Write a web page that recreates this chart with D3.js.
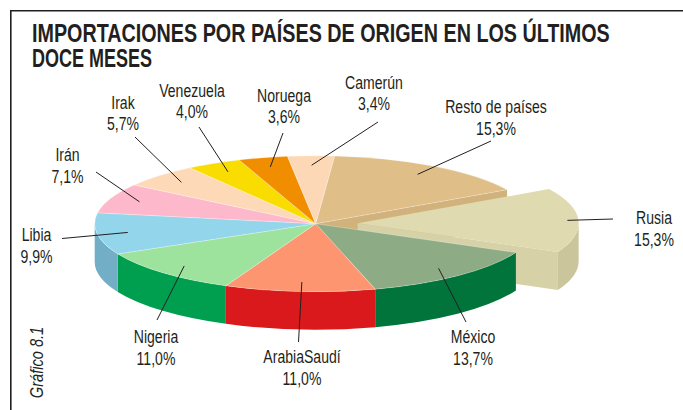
<!DOCTYPE html>
<html>
<head>
<meta charset="utf-8">
<script src="https://cdn.jsdelivr.net/npm/d3@7"></script>
<style>
  html, body { margin: 0; padding: 0; background: #fff; }
  svg { display: block; }
  text { font-family: "Liberation Sans", Arial, sans-serif; fill: #231f20; }
</style>
</head>
<body>
<svg id="chart"></svg>
<script>
const width = 683;
const height = 410;

// data
const categories = ["Resto de países", "Rusia", "México", "ArabiaSaudí", "Nigeria", "Libia", "Irán", "Irak", "Venezuela", "Noruega", "Camerún"];
const shares = [15.3, 15.3, 13.7, 11.0, 11.0, 9.9, 7.1, 5.7, 4.0, 3.6, 3.4];
const topColors = ["#dfbe87", "#dfdaaf", "#8dac85", "#fd9570", "#9de39d", "#93d5eb", "#feb8cb", "#fdd9b8", "#f9dc00", "#f18e00", "#fdd8b6"];
const sideColors = ["#d2b27c", "#cbc59c", "#00743a", "#d9191c", "#009f4f", "#72aec5", "#e9a3b5", "#e8c4a3", "#d9bf00", "#cf7a00", "#e8c3a1"];
const faceColors = ["#d2b27c", "#d6d1a6", "#00743a", "#d9191c", "#009f4f", "#72aec5", "#e9a3b5", "#e8c4a3", "#d9bf00", "#cf7a00", "#e8c3a1"];
const explodedCat = ["Rusia"];
const title = ["IMPORTACIONES POR PAÍSES DE ORIGEN EN LOS ÚLTIMOS", "DOCE MESES"];
const sourceNote = "Gráfico 8.1";

// label placement (annotation layout)
const labelLayout = {
  "Resto de países": { x: 496, y: 113, lx: 491, ly: 141 },
  "Rusia": { x: 654, y: 224, lx: 613, ly: 219 },
  "México": { x: 473, y: 343, lx: 466, ly: 322 },
  "ArabiaSaudí": { x: 302, y: 363, lx: 298.5, ly: 342 },
  "Nigeria": { x: 156, y: 343, lx: 157, ly: 320 },
  "Libia": { x: 36.5, y: 241, lx: 62, ly: 238.5 },
  "Irán": { x: 67.5, y: 161, lx: 96, ly: 172 },
  "Irak": { x: 123, y: 108.5, lx: 135, ly: 137 },
  "Venezuela": { x: 192, y: 96.5, lx: 199, ly: 127 },
  "Noruega": { x: 284, y: 101.5, lx: 283, ly: 133 },
  "Camerún": { x: 374, y: 88.5, lx: 378, ly: 122 }
};

const cx = 315.7, cy = 223.7, rx = 221, ry = 68, depth = 38;
const explode = 0.19;
const condense = 0.76;

const svg = d3.select("#chart").attr("width", width).attr("height", height);

svg.append("rect").attr("width", width).attr("height", height).attr("fill", "#fff");

// frame
svg.append("path")
  .attr("d", `M${width + 2},10.8 H10.8 V${height + 2}`)
  .attr("fill", "none")
  .attr("stroke", "#231f20")
  .attr("stroke-width", 1.6);

// title: one text block, squeezed to the condensed width of the original
const titleG = svg.append("g");
const titleText = titleG.append("text").attr("font-size", 25).attr("font-weight", "bold");
const line1 = titleText.append("tspan").attr("x", 0).text(title[0]);
const s1 = 578 / line1.node().getComputedTextLength();
titleText.append("tspan").attr("x", 0).attr("dy", 25.5)
  .attr("textLength", 120 / s1).attr("lengthAdjust", "spacingAndGlyphs")
  .text(title[1]);
titleG.attr("transform", `translate(32,42) scale(${s1},1)`);

// unit ellipse -> screen
const x = d3.scaleLinear().domain([-1, 1]).range([cx - rx, cx + rx]);
const y = d3.scaleLinear().domain([-1, 1]).range([cy - ry, cy + ry]);

const locale = d3.formatLocale({ decimal: ",", thousands: ".", grouping: [3], currency: ["", "€"] });
const pct = locale.format(".1f");

const data = categories.map((c, i) => ({ cat: c, value: shares[i], top: topColors[i], side: sideColors[i], face: faceColors[i] }));

const startA = 4.9 * Math.PI / 180;
const arcs = d3.pie().sort(null).value(d => d.value)
  .startAngle(startA).endAngle(startA + 2 * Math.PI)(data);

arcs.forEach(a => {
  const mid = (a.startAngle + a.endAngle) / 2;
  const e = explodedCat.includes(a.data.cat) ? explode : 0;
  a.ox = e * Math.sin(mid);
  a.oy = -e * Math.cos(mid);
  a.mid = mid;
});

function pt(a, ang, r, dz) {
  return [x(r * Math.sin(ang) + a.ox), y(-r * Math.cos(ang) + a.oy) + (dz || 0)];
}

function topPath(a) {
  const c = pt(a, 0, 0), p0 = pt(a, a.startAngle, 1), p1 = pt(a, a.endAngle, 1);
  const large = a.endAngle - a.startAngle > Math.PI ? 1 : 0;
  return `M${c}L${p0}A${rx},${ry} 0 ${large} 1 ${p1}Z`;
}

function wallPath(a) {
  const lo = Math.max(a.startAngle, Math.PI / 2);
  const hi = Math.min(a.endAngle, 3 * Math.PI / 2);
  if (lo >= hi) return null;
  const p0 = pt(a, lo, 1), p1 = pt(a, hi, 1);
  const q0 = pt(a, lo, 1, depth), q1 = pt(a, hi, 1, depth);
  return `M${p0}A${rx},${ry} 0 0 1 ${p1}L${q1}A${rx},${ry} 0 0 0 ${q0}Z`;
}

function facePath(a, ang) {
  const c = pt(a, 0, 0), p = pt(a, ang, 1);
  const cd = pt(a, 0, 0, depth), pd = pt(a, ang, 1, depth);
  return `M${c}L${p}L${pd}L${cd}Z`;
}

const pie = svg.append("g");
const n = arcs.length;
const isExp = a => explodedCat.includes(a.data.cat);

// faces uncovered by exploded slices
arcs.forEach((a, i) => {
  if (isExp(a)) return;
  const next = arcs[(i + 1) % n], prev = arcs[(i - 1 + n) % n];
  if (isExp(next) && Math.sin(a.endAngle) > 0)
    pie.append("path").attr("d", facePath(a, a.endAngle)).attr("fill", a.data.face);
  if (isExp(prev) && Math.sin(a.startAngle) < 0)
    pie.append("path").attr("d", facePath(a, a.startAngle)).attr("fill", a.data.face);
});

// exploded slices
arcs.filter(isExp).forEach(a => {
  if (Math.sin(a.endAngle) > 0)
    pie.append("path").attr("d", facePath(a, a.endAngle)).attr("fill", a.data.face);
  if (Math.sin(a.startAngle) < 0)
    pie.append("path").attr("d", facePath(a, a.startAngle)).attr("fill", a.data.face);
  const w = wallPath(a);
  if (w) pie.append("path").attr("d", w).attr("fill", a.data.side);
  pie.append("path").attr("d", topPath(a)).attr("fill", a.data.top);
});

// remaining walls and tops
arcs.filter(a => !isExp(a)).forEach(a => {
  const w = wallPath(a);
  if (w) pie.append("path").attr("d", w).attr("fill", a.data.side);
});
arcs.filter(a => !isExp(a)).forEach(a => {
  pie.append("path").attr("d", topPath(a)).attr("fill", a.data.top)
    .attr("stroke", "rgba(255,255,255,0.45)").attr("stroke-width", 0.6);
});

// leader lines and labels
const labels = svg.append("g");
arcs.forEach(a => {
  const L = labelLayout[a.data.cat];
  const inner = pt(a, a.mid, isExp(a) ? 0.95 : 0.86);
  labels.append("line")
    .attr("x1", L.lx).attr("y1", L.ly)
    .attr("x2", inner[0]).attr("y2", inner[1])
    .attr("stroke", "#231f20").attr("stroke-width", 1);
  const g = labels.append("g").attr("transform", `translate(${L.x},${L.y}) scale(${condense},1)`);
  g.append("text").attr("text-anchor", "middle").attr("font-size", 18.5).text(a.data.cat);
  g.append("text").attr("text-anchor", "middle").attr("font-size", 18.5).attr("y", 22)
    .text(pct(a.data.value) + "%");
});

// side note
svg.append("g").attr("transform", "translate(43,362.5) rotate(-90) scale(0.79,1)")
  .append("text").attr("text-anchor", "middle").attr("font-size", 18.5)
  .attr("font-style", "italic").text(sourceNote);
</script>
</body>
</html>
